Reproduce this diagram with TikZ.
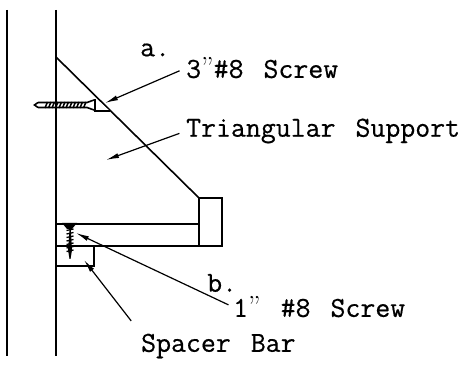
\documentclass[tikz,border=0pt]{standalone}
\usepackage{fontspec}
\usepackage{tikz}
\usetikzlibrary{arrows.meta}
\usetikzlibrary{positioning}
\setmonofont[FakeBold=0.5]{Latin Modern Mono}
\newcommand{\CurlyQuote}{{\rmfamily ”}}
\newcommand{\LabelFont}{\fontsize{29}{31}\selectfont\ttfamily\setlength{\spaceskip}{20pt}}
\begin{document}
\begin{tikzpicture}[
x=1pt,y=-1pt,
MyLines/.style={draw=black,line width=1.6pt},
MyLeaders/.style={draw=black,line width=1.2pt},
MyThreads/.style={draw=black,line width=1pt},
MyArrows/.style={MyLeaders,-{Latex[length=13pt, width=5pt]}},
MyLabels/.style={anchor=west,inner sep=0pt,font=\LabelFont}
]
\useasboundingbox (0,0) rectangle (466,371);

% wall and stud
\draw[MyLines] (7,10)--(7,356);
\draw[MyLines] (56,10)--(56,356);

\coordinate (TopA) at (56,57);
\coordinate (TopB) at (199,198);
\coordinate (BoxA) at (222,198);
\coordinate (BoxB) at (222,246);
\coordinate (BoxC) at (199,246);

% support and shelf arm
\draw[MyLines] (TopA)--(TopB)--(BoxA)--(BoxB)--(BoxC)--(TopB);
\draw[MyLines] (56,224)--(199,224);
\draw[MyLines] (56,246)--(BoxC);

% spacer bar
\draw[MyLines] (56,246)--(94,246)--(94,266)--(56,266);

% long screw
\draw[MyLines] (38,102.5)--(87,102.5)--(94,100);
\draw[MyLines] (38,107.5)--(87,107.5)--(94,110);
\draw[MyLines] (38,102.5)--(34.5,105)--(38,107.5);
\foreach \x in {45,48.5,...,85}
  \draw[MyThreads,line width=1.5pt] (\x,108)--(\x+2.5,102);
\fill[white] (97,100)--(110,111)--(97,111)--cycle;
\draw[MyLines] (95,99)--(95,111)--(110,111);

% short screw
\fill[black] (62,223)--(77,223)--(72,229)--(67,229)--cycle;
\fill[black] (69.7,228)--(70.7,228)--(72,250)--(70.5,259)--(69.5,259)--(68,250)--cycle;
\foreach \y in {229,232.5,...,250}
  \draw[MyThreads,line width=1.3pt] (66.5,\y+1.5)--(73.5,\y);

% labels
\node[MyLabels] (LabelA) at (140,50) {a.};
\node[MyLabels] (LabelScrewA) at (186,68) {3\CurlyQuote\#8 Screw};
\node[MyLabels] (LabelSupport) at (186,131) {Triangular Support};
\node[MyLabels] (LabelB) at (207,283) {b.};
\node[MyLabels] (LabelScrewB) at (233,307) {1\CurlyQuote\ \#8 Screw};
\node[MyLabels] (LabelBar) at (141,346) {Spacer Bar};

\coordinate (TipA) at (105,103);
\coordinate (TipSupport) at (106,160);
\coordinate (TipB) at (76,233);
\coordinate (TipBar) at (84,260);

% leaders
\draw[MyArrows,shorten <=7pt] (LabelScrewA.west)--(TipA);
\draw[MyArrows,shorten <=7pt] (LabelSupport.west)--(TipSupport);
\draw[MyArrows,shorten <=5pt] (LabelScrewB.west)--(TipB);
\draw[MyArrows,shorten <=16pt] (LabelBar.north west)--(TipBar);

\end{tikzpicture}
\end{document}
